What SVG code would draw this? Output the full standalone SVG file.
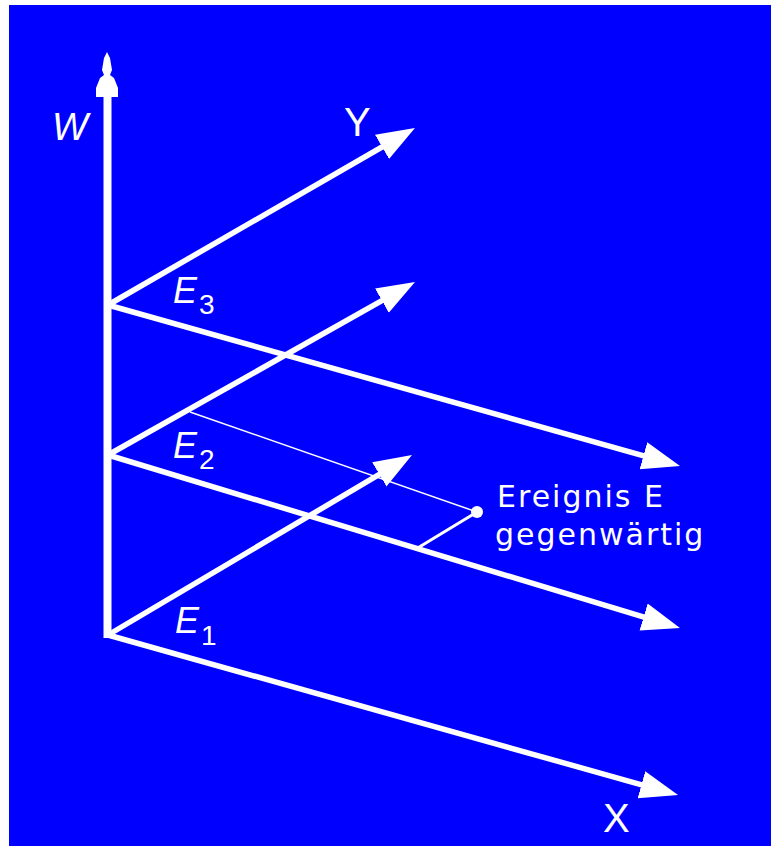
<svg xmlns="http://www.w3.org/2000/svg" width="771" height="850" viewBox="0 0 771 850">
<style>
.ax{stroke:#fff;stroke-width:5.5;fill:none;marker-end:url(#ah)}
.lbl{fill:#fff;font-family:"Liberation Sans",Arial,sans-serif}
.it{font-style:italic}
.ev{fill:#fff;font-family:"DejaVu Sans",Verdana,sans-serif;font-size:30px;letter-spacing:2px}
</style>
<defs>
<marker id="ah" markerUnits="userSpaceOnUse" markerWidth="42" markerHeight="34" viewBox="0 -17 42 34" refX="28" refY="0" orient="auto">
<path d="M0,-14 L38,0 L0,14 Z" fill="#fff"/>
</marker>
</defs>
<rect x="0" y="0" width="771" height="850" fill="#fff"/>
<rect x="9" y="5" width="762" height="841" fill="#0000ff"/>
<g id="connectors">
<g id="axis-w">
<rect x="103.5" y="95" width="8" height="543" fill="#fff"/>
<polygon points="107,52 110,58 112,70 110,75 114,78 118,88 118,97 96,97 96,88 100,78 104,75 102,70 104,58" fill="#fff"/>
</g>
<line class="ax" x1="108" y1="305" x2="406.3" y2="133"/>
<line class="ax" x1="108" y1="455" x2="406.3" y2="286.9"/>
<line class="ax" x1="108" y1="635" x2="403.4" y2="460.1"/>
<line class="ax" x1="108" y1="305" x2="670.4" y2="463.3"/>
<line class="ax" x1="108" y1="455" x2="670.4" y2="625.1"/>
<line class="ax" x1="108" y1="635" x2="668.4" y2="792.3"/>
<line x1="190" y1="412" x2="477" y2="512" stroke="#fff" stroke-width="1.5"/>
<line x1="477" y1="512" x2="416" y2="549" stroke="#fff" stroke-width="3"/>
</g>
<g id="event">
<circle cx="477" cy="512" r="6" fill="#fff"/>
<text class="ev" x="497" y="507">Ereignis E</text>
<text class="ev" x="495" y="545">gegenwärtig</text>
</g>
<g id="labels">
<text class="lbl it" x="52" y="140" font-size="38">W</text>
<text class="lbl" x="344" y="136" font-size="40">Y</text>
<text class="lbl" x="603" y="832" font-size="40">X</text>
<text class="lbl" x="173" y="303"><tspan class="it" font-size="36">E</tspan><tspan font-size="28" dy="11" dx="2">3</tspan></text>
<text class="lbl" x="173" y="458"><tspan class="it" font-size="36">E</tspan><tspan font-size="28" dy="11" dx="2">2</tspan></text>
<text class="lbl" x="175" y="633"><tspan class="it" font-size="36">E</tspan><tspan font-size="28" dy="12" dx="2">1</tspan></text>
</g>
</svg>
